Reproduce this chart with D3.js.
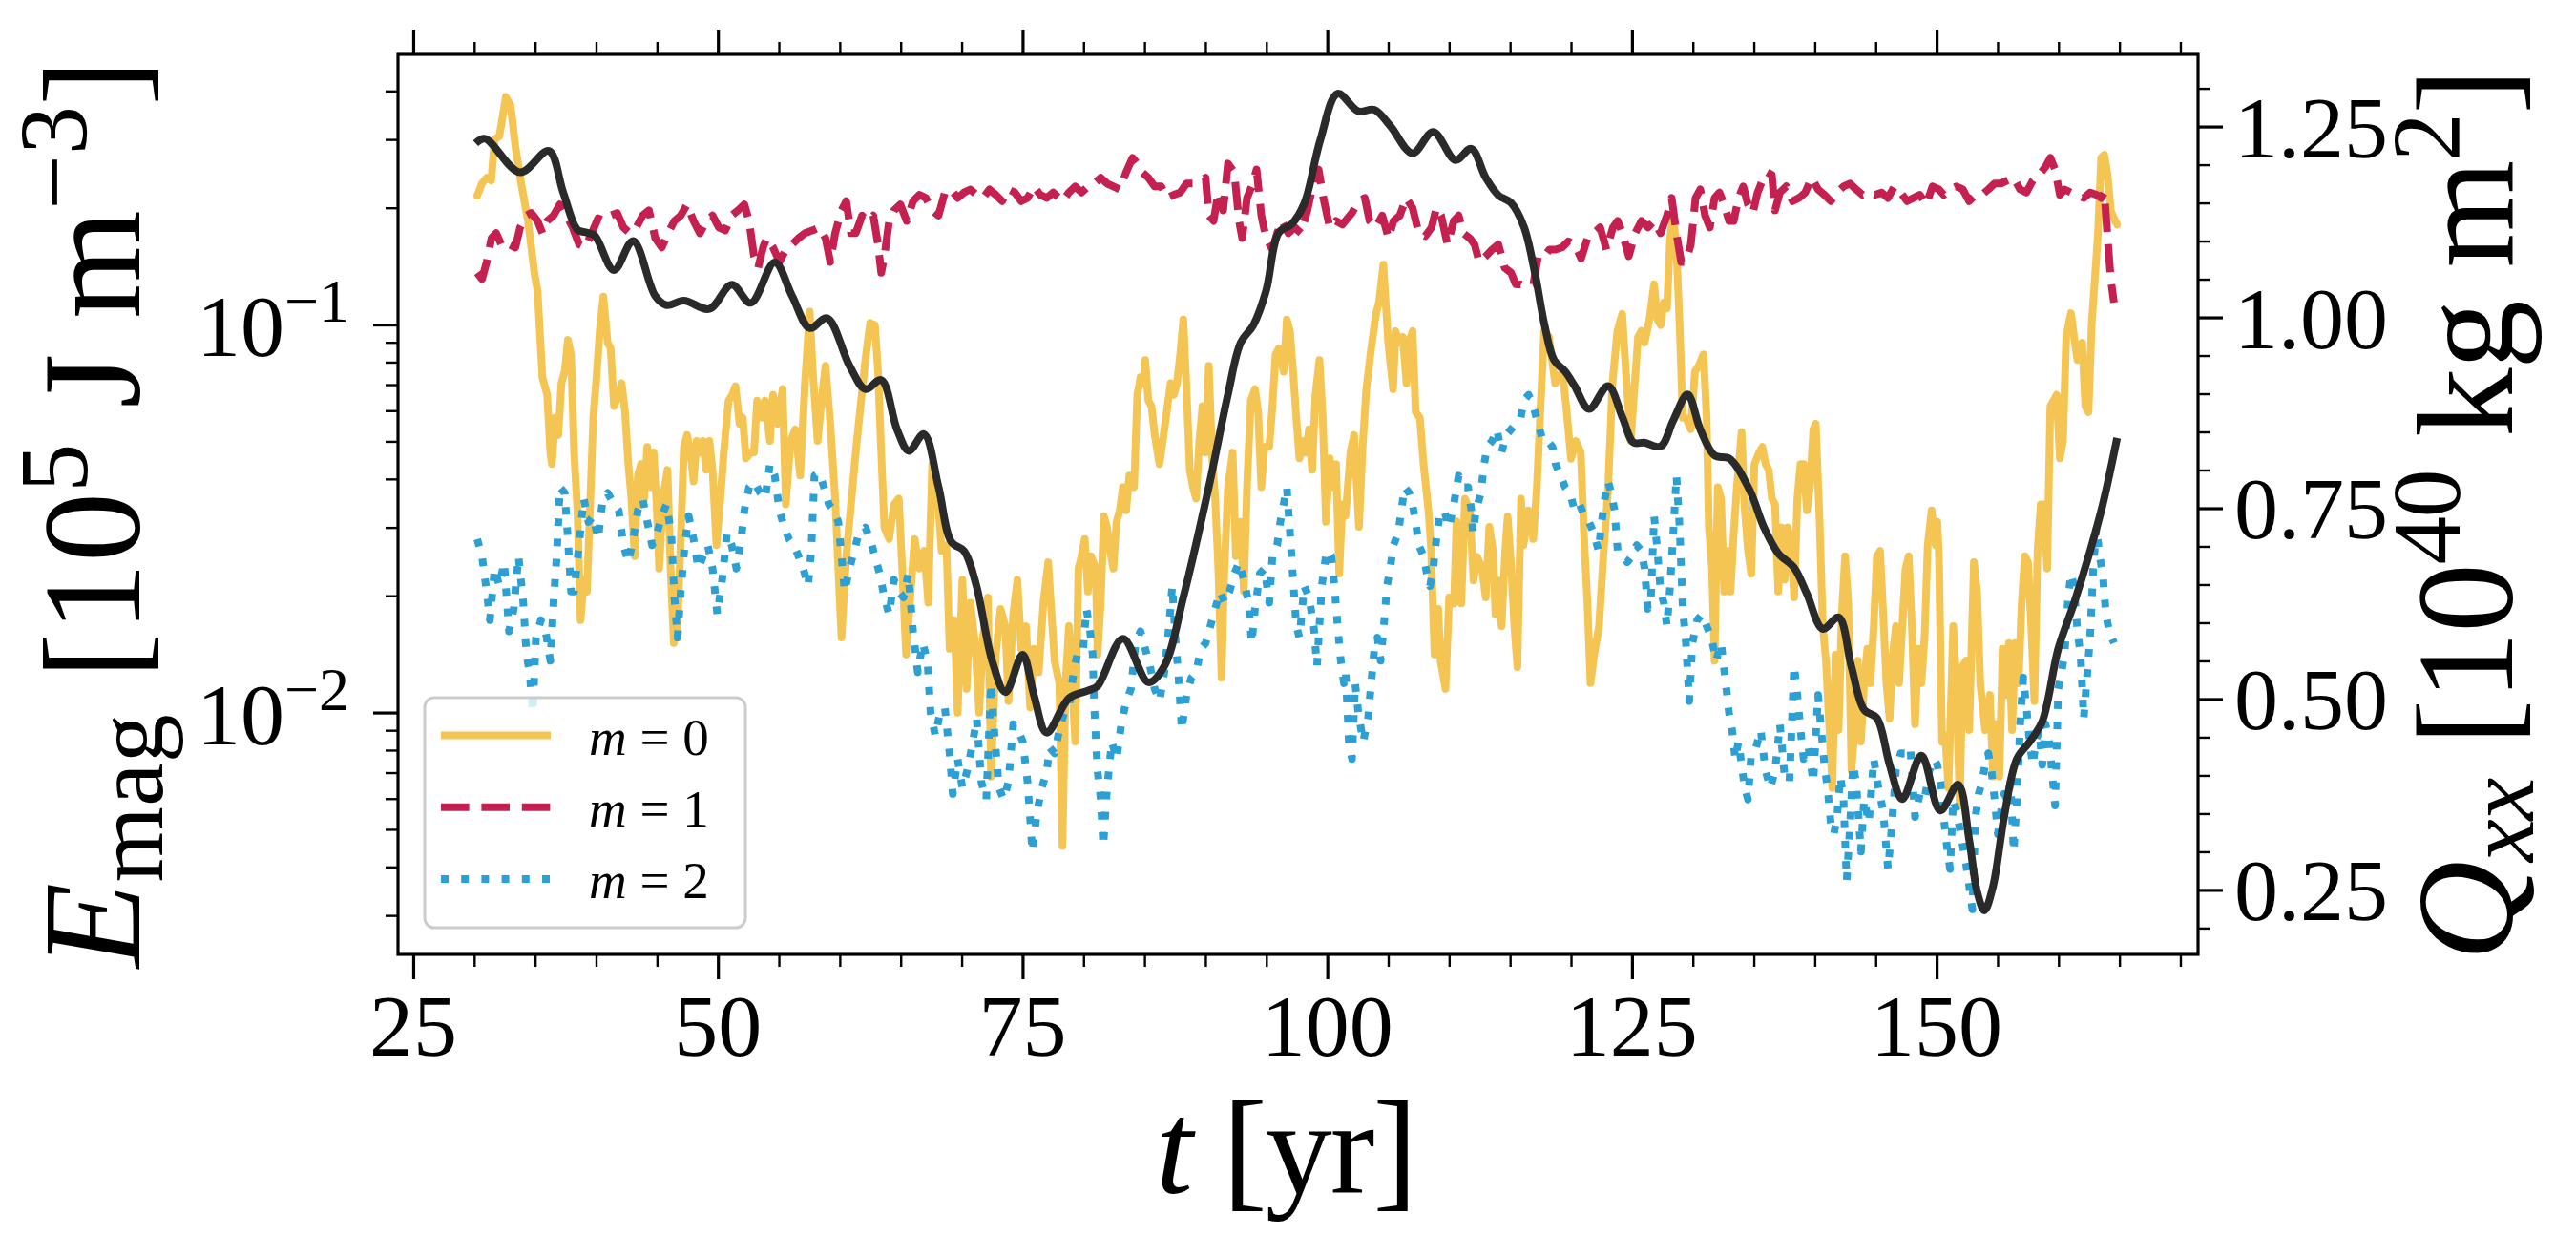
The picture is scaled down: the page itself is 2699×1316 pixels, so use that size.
<!DOCTYPE html>
<html><head><meta charset="utf-8">
<script src="https://cdn.jsdelivr.net/npm/d3@7/dist/d3.min.js"></script>
<style>body{margin:0;background:#fff}svg{display:block}</style>
</head><body>
<svg id="c" width="2699" height="1316"></svg>
<script>
// ---------- data ----------
const tM0=[30.25,30.64,31.03,31.4,31.68,32.07,32.6,32.99,33.38,33.9,34.42,34.94,35.2,35.6,35.99,36.25,36.38,36.64,36.9,37.16,37.43,37.69,37.95,38.2,38.47,38.73,38.99,39.25,39.5,39.77,40.0,40.3,40.6,40.95,41.2,41.47,41.86,42.1,42.38,42.65,42.9,43.17,43.43,43.69,43.95,44.2,44.47,44.73,44.99,45.18,45.5,45.86,46.12,46.38,46.69,46.95,47.21,47.47,47.74,48.0,48.26,48.52,48.78,49.04,49.3,49.56,49.88,50.2,50.48,50.87,51.18,51.44,51.78,52.04,52.3,52.7,52.96,53.22,53.61,53.87,54.27,54.53,54.92,55.31,55.57,55.96,56.35,56.75,57.14,57.53,57.79,58.18,58.5,58.83,59.22,59.62,59.88,60.14,60.53,60.92,61.31,61.7,62.1,62.49,62.88,63.14,63.4,63.66,64.05,64.45,64.84,65.1,65.44,65.75,66.14,66.53,66.93,67.26,67.58,67.97,68.36,68.75,69.01,69.4,69.67,70.06,70.4,70.71,71.1,71.44,71.75,72.15,72.41,72.8,73.19,73.58,73.84,74.23,74.57,74.89,75.28,75.62,75.93,76.32,76.71,77.1,77.62,78.01,78.27,78.53,78.8,79.06,79.32,79.58,79.84,80.1,80.36,80.62,81.0,81.15,81.41,81.67,81.93,82.19,82.45,82.71,82.97,83.23,83.5,83.76,84.15,84.41,84.67,84.93,85.06,85.32,85.58,85.84,86.23,86.5,86.89,87.15,87.41,87.67,87.93,88.19,88.45,88.72,88.98,89.24,89.5,89.76,90.02,90.28,90.54,90.8,91.06,91.33,91.53,91.85,92.24,92.5,92.89,93.15,93.41,93.73,94.07,94.33,94.59,94.85,95.24,95.5,95.76,96.02,96.42,96.68,96.94,97.2,97.46,97.72,97.98,98.24,98.5,98.76,99.03,99.36,99.63,99.89,100.2,100.46,100.72,100.98,101.24,101.5,101.9,102.2,102.6,102.9,103.2,103.6,104.0,104.25,104.6,105.0,105.4,105.6,105.9,106.2,106.5,106.7,107.0,107.25,107.6,107.9,108.3,108.5,108.8,109.1,109.3,109.7,110.0,110.4,110.6,111.0,111.3,111.7,112.0,112.3,112.7,113.0,113.3,113.6,113.8,114.0,114.3,114.6,114.8,115.1,115.35,115.6,115.9,116.1,116.5,116.9,117.2,117.5,117.8,118.2,118.7,119.3,119.65,120.0,120.4,120.8,121.1,121.35,121.6,121.9,122.3,122.65,123.05,123.4,123.8,124.2,124.5,124.9,125.3,125.5,125.78,126.04,126.43,126.82,127.09,127.35,127.61,127.87,128.13,128.39,128.65,128.91,129.17,129.43,129.83,130.17,130.48,130.87,131.13,131.31,131.57,131.78,132.04,132.31,132.57,132.83,133.09,133.35,133.61,134.0,134.26,134.52,134.79,135.05,135.44,135.7,135.96,136.22,136.48,136.74,137.0,137.27,137.53,137.79,138.05,138.31,138.57,138.83,139.09,139.35,139.61,139.88,140.08,140.4,140.66,140.92,141.18,141.44,141.7,141.96,142.22,142.49,142.75,143.01,143.27,143.53,143.79,144.05,144.31,144.57,144.84,145.1,145.36,145.62,145.88,146.14,146.4,146.66,146.92,147.18,147.45,147.71,147.97,148.23,148.49,148.75,149.01,149.27,149.59,149.93,150.06,150.19,150.32,150.45,150.71,150.97,151.36,151.63,151.89,152.15,152.41,152.67,153.06,153.32,153.58,153.98,154.37,154.63,154.89,155.15,155.41,155.67,155.93,156.19,156.46,156.72,156.98,157.24,157.5,157.76,158.02,158.28,158.54,158.8,159.07,159.33,159.59,159.85,160.11,160.37,160.63,161.02,161.28,161.55,161.94,162.2,162.46,162.72,162.98,163.24,163.5,163.76,164.03,164.29,164.55,164.81];
const eM0=[.215,.231,.239,.235,.300,.306,.386,.367,.288,.227,.185,.136,.122,.0731,.0659,.0468,.0437,.0575,.0519,.0706,.0756,.0913,.0838,.0468,.0332,.0173,.0220,.0205,.0332,.0575,.0706,.0963,.118,.0898,.0868,.0616,.0659,.0706,.0595,.0437,.0356,.0253,.0408,.0437,.0356,.0484,.0381,.0468,.0332,.0235,.0356,.0422,.0235,.0151,.0167,.0280,.0484,.0519,.0468,.0394,.0501,.0468,.0501,.0422,.0501,.0422,.0270,.0356,.0468,.0637,.0659,.0694,.0555,.0575,.0452,.0468,.0468,.0637,.0575,.0637,.0501,.0659,.0555,.0682,.0344,.0501,.0537,.0408,.0706,.108,.0756,.0501,.0637,.0783,.0555,.0356,.0235,.0156,.0253,.0344,.0468,.0616,.0810,.101,.0997,.0756,.0468,.0300,.0280,.0344,.0356,.0244,.0141,.0192,.0280,.0235,.0261,.0192,.0437,.0381,.0261,.0270,.0146,.0173,.00999,.0220,.0115,.0192,.0151,.00999,.0156,.0198,.00684,.0141,.0185,.0167,.0107,.0179,.0220,.0146,.0167,.0103,.0146,.0127,.0192,.0244,.0136,.0119,.00453,.0119,.0167,.0119,.00841,.0235,.0253,.0280,.0205,.0253,.0235,.0141,.0192,.0321,.0300,.0261,.0235,.0310,.0332,.0381,.0332,.0408,.0381,.0659,.0731,.0706,.0810,.0637,.0616,.0519,.0437,.0501,.0616,.0706,.0659,.0706,.0838,.103,.0682,.0422,.0381,.0356,.0501,.0616,.0468,.0783,.0468,.0356,.0235,.0123,.0220,.0381,.0468,.0253,.0310,.0205,.0381,.0637,.0682,.0595,.0381,.0484,.0484,.0616,.0838,.0868,.0756,.103,.0963,.0756,.0575,.0452,.0501,.0468,.0537,.0422,.0659,.0810,.0575,.0310,.0452,.0381,.0437,.0228,.0344,.0321,.0468,.0519,.0301,.0484,.0681,.0867,.1066,.1143,.1428,.0898,.0681,.0962,.0898,.0929,.0705,.0898,.0962,.0595,.0575,.0437,.0332,.0270,.0141,.0185,.0136,.0115,.0198,.0191,.0311,.0191,.0356,.0332,.0219,.0252,.0235,.0198,.0301,.0261,.0179,.0219,.0167,.0261,.0320,.0235,.0167,.0131,.0356,.0270,.0332,.0280,.0380,.0617,.0962,.0929,.0705,.0756,.0595,.0451,.0501,.0468,.0270,.0191,.0119,.0141,.0167,.0252,.0380,.0705,.0962,.1066,.0756,.0501,.0756,.0929,.0963,.0898,.103,.127,.103,.0997,.114,.110,.167,.191,.156,.0997,.0575,.0575,.0537,.0756,.0783,.0838,.0575,.0300,.0235,.0136,.0381,.0356,.0205,.0261,.0205,.0290,.0381,.0528,.0332,.0261,.0228,.0437,.0468,.0484,.0437,.0422,.0356,.0344,.0205,.0300,.0220,.0300,.0270,.0198,.0356,.0437,.0437,.0332,.0381,.0537,.0555,.0310,.0167,.0136,.00933,.00639,.0141,.00901,.0179,.0253,.0192,.00708,.00901,.0136,.00841,.0119,.0146,.0119,.0167,.0253,.0261,.0179,.0119,.00965,.0141,.0167,.0119,.0167,.0235,.0253,.0167,.00933,.0146,.0119,.0156,.0270,.0332,.0270,.0310,.0253,.0141,.00841,.00871,.00639,.0167,.0119,.00576,.0132,.0136,.00901,.0244,.0205,.0119,.00901,.0111,.00684,.00933,.00684,.0146,.0111,.0151,.00901,.0151,.0119,.0192,.0253,.0244,.0167,.0107,.0261,.0344,.0344,.0235,.0616,.0637,.0659,.0452,.0501,.0929,.107,.0929,.0810,.0898,.0616,.0595,.0997,.131,.172,.269,.274,.243,.197,.188,.181];

const tM1=[30.25,30.64,31.03,31.42,31.81,32.33,32.86,33.38,33.77,34.29,34.68,35.2,35.6,35.99,36.51,37.03,37.56,38.08,38.6,39.12,39.64,40.17,40.69,41.21,41.73,42.25,42.78,43.3,43.82,44.34,44.86,45.39,45.91,46.43,46.95,47.47,48.0,48.52,49.04,49.56,50.08,50.6,51.13,51.65,52.17,52.56,52.96,53.3,53.7,54.0,54.53,55.05,55.57,56.09,56.61,57.14,57.79,58.31,58.83,59.22,59.62,60.14,60.53,60.92,61.31,61.83,62.23,62.75,63.14,63.4,63.66,64.05,64.45,64.97,65.49,66.01,66.53,67.06,67.58,68.1,68.62,69.14,69.67,70.19,70.71,71.23,71.75,72.28,72.8,73.32,73.84,74.36,74.89,75.41,75.93,76.45,76.98,77.5,78.27,78.8,79.32,79.84,80.36,80.88,81.41,81.93,82.45,82.97,83.5,84.02,84.41,84.8,85.32,85.84,86.37,86.89,87.41,87.93,88.45,88.98,89.5,90.02,90.28,90.67,91.06,91.46,91.85,92.37,92.76,93.02,93.41,93.8,94.2,94.59,94.98,95.5,95.89,96.29,96.81,97.33,97.85,98.37,98.9,99.29,99.68,100.2,100.72,101.24,102.03,102.55,103.08,103.47,103.99,104.51,105.03,105.43,105.95,106.47,106.99,107.51,108.04,108.56,108.95,109.34,109.86,110.38,110.78,111.17,111.69,112.08,112.47,113.0,113.52,114.04,114.56,115.08,115.47,115.87,116.39,116.91,117.3,117.82,118.22,118.74,119.26,119.78,120.3,120.83,121.35,121.87,122.39,122.91,123.44,123.83,124.22,124.74,125.26,125.79,126.31,126.82,127.35,127.87,128.26,128.65,129.04,129.43,129.83,130.22,130.61,131.0,131.39,131.78,132.18,132.57,132.96,133.35,133.74,134.13,134.52,134.92,135.31,135.7,136.09,136.48,136.74,137.14,137.66,138.18,138.7,139.22,139.75,140.27,140.79,141.31,141.83,142.36,142.88,143.4,143.92,144.44,144.97,145.49,146.01,146.53,147.05,147.58,148.1,148.62,149.14,149.66,150.19,150.58,151.1,151.63,152.15,152.67,153.19,153.71,154.24,154.76,155.28,155.8,156.32,156.85,157.37,157.89,158.41,158.93,159.33,159.72,160.11,160.5,161.02,161.55,162.07,162.59,163.11,163.5,163.76,164.03,164.29,164.55];
const eM1=[.136,.131,.145,.167,.172,.158,.161,.158,.178,.191,.194,.185,.172,.185,.191,.204,.191,.178,.161,.158,.172,.188,.185,.191,.194,.178,.172,.178,.191,.197,.167,.158,.172,.185,.191,.204,.185,.172,.185,.191,.178,.175,.191,.197,.204,.185,.150,.140,.158,.167,.158,.145,.156,.161,.167,.172,.175,.178,.167,.145,.172,.197,.208,.172,.172,.191,.185,.191,.161,.136,.150,.185,.197,.204,.185,.208,.216,.212,.197,.191,.219,.223,.212,.219,.223,.216,.212,.223,.216,.208,.223,.219,.208,.212,.227,.216,.212,.219,.208,.219,.227,.219,.227,.231,.239,.231,.227,.223,.247,.269,.260,.247,.239,.227,.227,.212,.216,.219,.231,.231,.235,.239,.191,.185,.219,.197,.260,.247,.185,.167,.212,.227,.251,.191,.167,.156,.172,.185,.172,.178,.172,.197,.235,.251,.212,.178,.185,.181,.194,.208,.212,.185,.178,.191,.167,.185,.191,.212,.200,.172,.169,.178,.200,.191,.161,.185,.191,.172,.167,.161,.145,.150,.156,.161,.140,.136,.127,.127,.125,.127,.150,.150,.156,.156,.158,.164,.161,.148,.167,.172,.178,.156,.178,.185,.172,.150,.172,.185,.178,.185,.172,.191,.212,.172,.145,.145,.161,.212,.223,.191,.178,.212,.219,.204,.185,.185,.212,.227,.204,.194,.219,.235,.247,.243,.197,.219,.227,.208,.212,.219,.239,.223,.216,.208,.219,.227,.231,.223,.216,.219,.216,.219,.212,.227,.219,.208,.212,.216,.204,.227,.223,.216,.223,.227,.223,.208,.216,.216,.223,.231,.231,.235,.239,.223,.219,.235,.243,.255,.269,.251,.216,.223,.219,.216,.212,.219,.216,.212,.219,.167,.131,.114];

const tM2=[30.25,30.64,31.03,31.29,31.68,32.07,32.46,32.86,33.25,33.64,34.03,34.29,34.55,34.81,35.07,35.47,35.86,36.25,36.51,36.77,37.03,37.43,37.69,37.95,38.2,38.6,38.99,39.38,39.77,40.17,40.56,40.95,41.47,41.86,42.25,42.65,43.04,43.43,43.82,44.21,44.6,45.0,45.39,45.78,46.17,46.43,46.69,46.95,47.27,47.6,48.0,48.39,48.78,49.17,49.56,49.95,50.35,50.74,51.13,51.52,51.91,52.17,52.56,52.96,53.48,53.87,54.27,54.66,55.05,55.44,55.83,56.22,56.61,57.0,57.4,57.66,57.92,58.31,58.7,59.1,59.49,59.88,60.14,60.4,60.79,61.18,61.57,62.1,62.49,62.88,63.27,63.66,64.05,64.45,64.84,65.23,65.62,66.01,66.4,66.8,67.19,67.45,67.84,68.23,68.62,69.01,69.27,69.67,70.06,70.45,70.84,71.23,71.62,72.02,72.41,72.67,73.06,73.45,73.84,74.23,74.63,75.02,75.41,75.8,76.19,76.58,76.98,77.23,77.62,78.01,78.4,78.8,79.19,79.58,79.97,80.23,80.49,80.75,80.88,81.15,81.41,81.62,81.93,82.32,82.71,83.1,83.5,83.89,84.28,84.67,85.06,85.45,85.84,86.24,86.63,87.02,87.28,87.54,87.8,88.06,88.45,88.85,89.24,89.63,90.02,90.41,90.8,91.2,91.59,91.98,92.37,92.76,93.15,93.54,93.8,94.07,94.46,94.85,95.24,95.5,95.89,96.15,96.42,96.68,96.94,97.2,97.46,97.72,98.11,98.5,98.89,99.16,99.55,99.94,100.33,100.59,100.85,101.11,101.37,101.51,101.77,102.03,102.29,102.55,102.95,103.34,103.6,103.86,104.12,104.38,104.64,104.9,105.16,105.43,105.82,106.08,106.34,106.73,106.99,107.25,107.51,107.91,108.17,108.43,108.69,108.95,109.21,109.6,109.99,110.38,110.78,111.17,111.56,111.82,111.95,112.21,112.6,112.87,113.13,113.52,113.91,114.3,114.69,115.08,115.47,115.87,116.13,116.52,116.91,117.3,117.69,118.09,118.48,118.74,119.13,119.52,119.91,120.3,120.7,121.09,121.48,121.87,122.26,122.52,122.78,123.04,123.31,123.57,123.83,124.22,124.61,125.0,125.39,125.79,126.04,126.3,126.56,126.82,127.09,127.35,127.61,127.87,128.13,128.39,128.65,128.91,129.17,129.43,129.7,129.96,130.35,130.74,131.13,131.52,131.91,132.31,132.7,132.96,133.22,133.48,133.74,134.0,134.26,134.52,134.79,135.18,135.57,135.96,136.35,136.74,137.14,137.53,137.92,138.31,138.57,138.83,139.09,139.48,139.88,140.27,140.53,140.79,141.05,141.31,141.57,141.83,142.1,142.36,142.62,142.88,143.14,143.4,143.79,144.05,144.44,144.84,145.23,145.62,146.01,146.27,146.66,147.05,147.45,147.84,148.23,148.62,149.01,149.4,149.79,150.06,150.32,150.58,150.84,151.1,151.36,151.63,151.89,152.15,152.41,152.67,152.93,153.19,153.45,153.71,153.98,154.24,154.5,154.76,155.02,155.28,155.54,155.8,156.06,156.32,156.59,156.85,157.11,157.37,157.63,157.89,158.15,158.41,158.67,158.93,159.2,159.46,159.72,159.98,160.24,160.5,160.76,161.02,161.28,161.55,161.81,162.07,162.33,162.59,162.85,163.11,163.37,163.63,163.89,164.16,164.55];
const eM2=[.0280,.0253,.0205,.0173,.0235,.0212,.0244,.0162,.0185,.0253,.0192,.0141,.0127,.00999,.0156,.0173,.0162,.0136,.0192,.0253,.0381,.0368,.0280,.0205,.0205,.0270,.0356,.0310,.0321,.0280,.0356,.0368,.0344,.0332,.0270,.0244,.0280,.0332,.0356,.0310,.0270,.0290,.0321,.0344,.0290,.0198,.0156,.0205,.0270,.0321,.0280,.0235,.0253,.0270,.0235,.0179,.0220,.0290,.0270,.0235,.0280,.0332,.0381,.0394,.0368,.0356,.0437,.0408,.0332,.0300,.0280,.0270,.0253,.0235,.0212,.0261,.0408,.0415,.0381,.0344,.0332,.0310,.0253,.0205,.0235,.0261,.0290,.0300,.0280,.0253,.0228,.0198,.0179,.0220,.0205,.0198,.0228,.0162,.0127,.0151,.0136,.00999,.00871,.00999,.0103,.00785,.00617,.00759,.00639,.00708,.00813,.00965,.00661,.00597,.0119,.00901,.00639,.00597,.00661,.00933,.00901,.00841,.00661,.00438,.00557,.00639,.00708,.00813,.00785,.00901,.00999,.0103,.0127,.0146,.0146,.0185,.0167,.0141,.0103,.00708,.00597,.00453,.00639,.00841,.00759,.00933,.0107,.0115,.0151,.0162,.0146,.0132,.0115,.0107,.0127,.0167,.0212,.0156,.0123,.00901,.0111,.0123,.0127,.0146,.0151,.0167,.0185,.0205,.0192,.0205,.0228,.0244,.0220,.0192,.0151,.0185,.0228,.0235,.0192,.0253,.0270,.0310,.0344,.0381,.0290,.0220,.0167,.0156,.0212,.0198,.0167,.0132,.0212,.0261,.0253,.0212,.0167,.0136,.0119,.0127,.00841,.00759,.0119,.00999,.00841,.00965,.0119,.0146,.0156,.0136,.0167,.0212,.0235,.0270,.0290,.0332,.0381,.0368,.0344,.0310,.0270,.0253,.0228,.0212,.0235,.0280,.0321,.0332,.0300,.0344,.0408,.0381,.0381,.0332,.0290,.0332,.0368,.0437,.0484,.0501,.0537,.0468,.0519,.0537,.0555,.0575,.0637,.0659,.0616,.0555,.0501,.0501,.0484,.0437,.0408,.0381,.0368,.0332,.0344,.0321,.0310,.0290,.0261,.0310,.0356,.0394,.0368,.0332,.0261,.0253,.0244,.0253,.0270,.0261,.0235,.0185,.0198,.0321,.0261,.0205,.0192,.0167,.0212,.0290,.0408,.0300,.0185,.0151,.0107,.0151,.0173,.0179,.0167,.0156,.0136,.0151,.0119,.00999,.00901,.00759,.00841,.00733,.00639,.00597,.00785,.00813,.00901,.00708,.00639,.00708,.00933,.00684,.00661,.0132,.0111,.00901,.00759,.00813,.00661,.0111,.00901,.00733,.00639,.00520,.00486,.00538,.00684,.00597,.00369,.00503,.00733,.00661,.00438,.00597,.00520,.00759,.00639,.00557,.00395,.00486,.00708,.00785,.00785,.00813,.00538,.00617,.00597,.00708,.00759,.00733,.00661,.00538,.00453,.00395,.00597,.00557,.00503,.00453,.00409,.00357,.00311,.00538,.00617,.00661,.00733,.00785,.00708,.00597,.00486,.00557,.00617,.00597,.00661,.00438,.00597,.00933,.0123,.0103,.00841,.00733,.00841,.00901,.00733,.00933,.00871,.00708,.00576,.0115,.0127,.0141,.0192,.0228,.0212,.0162,.0141,.00965,.0123,.0156,.0235,.0300,.0253,.0228,.0179,.0162,.0151];

const tQ=[30.12,30.9,33.77,36.12,37.3,38.47,39.25,39.9,41.47,43.04,44.86,45.78,47.21,49.3,51.13,52.7,54.66,56.09,57.53,58.96,60.79,62.1,63.4,64.7,65.67,66.9,68.1,69.15,70.2,71.2,72.5,73.6,75.0,75.93,76.98,78.8,80.36,81.15,83.23,85.32,86.63,88.2,90.28,91.85,92.9,93.94,94.98,96.02,97.07,98.11,99.42,100.85,102.55,103.86,105.16,106.99,108.69,110.52,111.82,113.0,114.04,115.08,116.13,117.04,117.83,118.61,119.52,120.3,121.48,123.04,124.22,125.13,126.0,127.35,128.39,129.56,130.61,131.78,133.0,134.65,135.83,137.0,138.31,139.35,140.66,141.96,143.0,144.05,145.1,146.14,147.18,148.75,150.3,151.76,152.67,153.32,153.92,154.63,155.54,156.59,157.63,158.67,159.98,161.28,162.59,163.63,164.81];
const vQ=[1.228,1.234,1.190,1.218,1.164,1.115,1.111,1.107,1.062,1.100,1.028,1.016,1.022,1.011,1.043,1.019,1.072,1.028,0.986,0.999,0.937,0.906,0.918,0.853,0.825,0.847,0.778,0.706,0.694,0.649,0.550,0.509,0.558,0.505,0.456,0.501,0.511,0.517,0.579,0.522,0.543,0.634,0.778,0.899,0.967,0.990,1.035,1.111,1.122,1.149,1.232,1.293,1.270,1.272,1.251,1.215,1.243,1.206,1.221,1.183,1.160,1.150,1.119,1.058,0.990,0.944,0.929,0.910,0.880,0.910,0.869,0.836,0.836,0.831,0.865,0.899,0.853,0.819,0.815,0.774,0.725,0.691,0.672,0.638,0.592,0.607,0.543,0.486,0.475,0.414,0.369,0.426,0.354,0.388,0.316,0.248,0.223,0.255,0.346,0.422,0.444,0.471,0.566,0.626,0.694,0.755,0.842];

const xMajorTicks=[25,50,75,100,125,150];
const xMinorTicks=[30,35,40,45,55,60,65,70,80,85,90,95,105,110,115,120,130,135,140,145,155,160,165,170];
const eMajorTicks=[0.01,0.1];
const eMajorExp=["−2","−1"];
const eMinorTicks=[0.003,0.004,0.005,0.006,0.007,0.008,0.009,0.02,0.03,0.04,0.05,0.06,0.07,0.08,0.09,0.2,0.3,0.4];
const qMajorTicks=[0.25,0.5,0.75,1.0,1.25];
const qMinorTicks=[0.2,0.3,0.35,0.4,0.45,0.55,0.6,0.65,0.7,0.8,0.85,0.9,0.95,1.05,1.1,1.15,1.2,1.3];
const legendM=["0","1","2"];
const xDomain=[23.75,171.45], eDomain=[0.00238,0.497], qDomain=[0.1655,1.3445];

// ---------- drawing ----------
const L=417,R=2303,T=57,B=1000;
const LW=8;
const FONT="'Liberation Serif','Times New Roman',serif";
const svg=d3.select('#c');
const x=d3.scaleLinear().domain(xDomain).range([L,R]);
const yE=d3.scaleLog().domain(eDomain).range([B,T]);
const yQ=d3.scaleLinear().domain(qDomain).range([B,T]);

svg.append('defs').append('clipPath').attr('id','clip')
  .append('rect').attr('x',L).attr('y',T).attr('width',R-L).attr('height',B-T);

const series=[
  {t:tM0,v:eM0,color:'#F4C553',dash:null},
  {t:tM1,v:eM1,color:'#C42050',dash:`${3.7*LW},${1.6*LW}`},
  {t:tM2,v:eM2,color:'#2CA0D5',dash:`${LW},${1.65*LW}`}
];
const gLines=svg.append('g').attr('clip-path','url(#clip)');
series.forEach(s=>{
  const pts=s.t.map((t,i)=>[t,s.v[i]]);
  gLines.append('path').datum(pts)
    .attr('d',d3.line().x(d=>x(d[0])).y(d=>yE(d[1])))
    .attr('fill','none').attr('stroke',s.color).attr('stroke-width',LW)
    .attr('stroke-linejoin','round')
    .attr('stroke-linecap',s.dash?'butt':'round')
    .attr('stroke-dasharray',s.dash);
});

// legend (belongs to left axes)
const lg=svg.append('g');
lg.append('rect').attr('x',445).attr('y',731).attr('width',336).attr('height',241)
  .attr('rx',10).attr('fill','#fff').attr('fill-opacity',0.8)
  .attr('stroke','#cccccc').attr('stroke-width',3);
series.forEach((s,i)=>{
  const yy=770.5+i*75.2;
  lg.append('line').attr('x1',462).attr('x2',577).attr('y1',yy).attr('y2',yy)
    .attr('stroke',s.color).attr('stroke-width',LW).attr('stroke-dasharray',s.dash)
    .attr('stroke-linecap','butt');
  const tx=lg.append('text').attr('x',617).attr('y',yy+20).attr('font-family',FONT).attr('font-size',55);
  tx.append('tspan').attr('font-style','italic').text('m');
  tx.append('tspan').text(' = '+legendM[i]);
});

// Q line (twin axis)
svg.append('g').attr('clip-path','url(#clip)').append('path')
  .datum(tQ.map((t,i)=>[t,vQ[i]]))
  .attr('d',d3.line().x(d=>x(d[0])).y(d=>yQ(d[1])).curve(d3.curveCatmullRom.alpha(0.5)))
  .attr('fill','none').attr('stroke','#2A2A2A').attr('stroke-width',LW)
  .attr('stroke-linejoin','round').attr('stroke-linecap','butt');

// axes ticks
function styleAxis(g,w){g.select('.domain').remove();g.selectAll('line').attr('stroke','#000').attr('stroke-width',w);g.selectAll('text').remove();}
svg.append('g').attr('transform',`translate(0,${B})`).call(d3.axisBottom(x).tickValues(xMajorTicks).tickSize(26)).call(g=>styleAxis(g,3.2));
svg.append('g').attr('transform',`translate(0,${B})`).call(d3.axisBottom(x).tickValues(xMinorTicks).tickSize(13)).call(g=>styleAxis(g,2.4));
svg.append('g').attr('transform',`translate(0,${T})`).call(d3.axisTop(x).tickValues(xMajorTicks).tickSize(26)).call(g=>styleAxis(g,3.2));
svg.append('g').attr('transform',`translate(0,${T})`).call(d3.axisTop(x).tickValues(xMinorTicks).tickSize(13)).call(g=>styleAxis(g,2.4));
svg.append('g').attr('transform',`translate(${L},0)`).call(d3.axisLeft(yE).tickValues(eMajorTicks).tickSize(26)).call(g=>styleAxis(g,3.2));
svg.append('g').attr('transform',`translate(${L},0)`).call(d3.axisLeft(yE).tickValues(eMinorTicks).tickSize(13)).call(g=>styleAxis(g,2.4));
svg.append('g').attr('transform',`translate(${R},0)`).call(d3.axisRight(yQ).tickValues(qMajorTicks).tickSize(26)).call(g=>styleAxis(g,3.2));
svg.append('g').attr('transform',`translate(${R},0)`).call(d3.axisRight(yQ).tickValues(qMinorTicks).tickSize(13)).call(g=>styleAxis(g,2.4));

// frame
svg.append('rect').attr('x',L).attr('y',T).attr('width',R-L).attr('height',B-T)
  .attr('fill','none').attr('stroke','#000').attr('stroke-width',3.2);

// tick labels
svg.append('g').selectAll('text').data(xMajorTicks).join('text')
  .attr('x',d=>x(d)).attr('y',1106).attr('text-anchor','middle')
  .attr('font-family',FONT).attr('font-size',92).text(d=>d);
eMajorTicks.forEach((v,i)=>{
  const t=svg.append('text').attr('x',366).attr('y',yE(v)+33).attr('text-anchor','end')
    .attr('font-family',FONT).attr('font-size',92);
  t.append('tspan').text('10');
  t.append('tspan').attr('font-size',64).attr('dy',-36).text(eMajorExp[i]);
});
svg.append('g').selectAll('text').data(qMajorTicks).join('text')
  .attr('x',2341).attr('y',d=>yQ(d)+32).attr('text-anchor','start')
  .attr('font-family',FONT).attr('font-size',92).text(d=>d3.format('.2f')(d));

// axis labels
const xl=svg.append('text').attr('x',1348).attr('y',1250).attr('text-anchor','middle')
  .attr('font-family',FONT).attr('font-size',140).attr('textLength',274).attr('lengthAdjust','spacing');
xl.append('tspan').attr('font-style','italic').text('t');
xl.append('tspan').text(' [yr]');

const yl=svg.append('text').attr('transform','translate(146,538) rotate(-90)').attr('text-anchor','middle')
  .attr('font-family',FONT).attr('font-size',146).attr('textLength',952).attr('lengthAdjust','spacing');
yl.append('tspan').attr('font-style','italic').text('E');
yl.append('tspan').attr('font-size',102).attr('dy',24).text('mag');
yl.append('tspan').attr('dy',-24).text(' [10');
yl.append('tspan').attr('font-size',102).attr('dy',-55).text('5');
yl.append('tspan').attr('dy',55).text(' J m');
yl.append('tspan').attr('font-size',102).attr('dy',-55).text('−3');
yl.append('tspan').attr('dy',55).text(']');

const ql=svg.append('text').attr('transform','translate(2632,539) rotate(-90)').attr('text-anchor','middle')
  .attr('font-family',FONT).attr('font-size',145).attr('textLength',935).attr('lengthAdjust','spacing');
ql.append('tspan').attr('font-style','italic').text('Q');
ql.append('tspan').attr('font-style','italic').attr('font-size',101).attr('dy',22).text('xx');
ql.append('tspan').attr('dy',-22).text(' [10');
ql.append('tspan').attr('font-size',101).attr('dy',-55).text('40');
ql.append('tspan').attr('dy',55).text(' kg m');
ql.append('tspan').attr('font-size',101).attr('dy',-55).text('2');
ql.append('tspan').attr('dy',55).text(']');
</script>
</body></html>
